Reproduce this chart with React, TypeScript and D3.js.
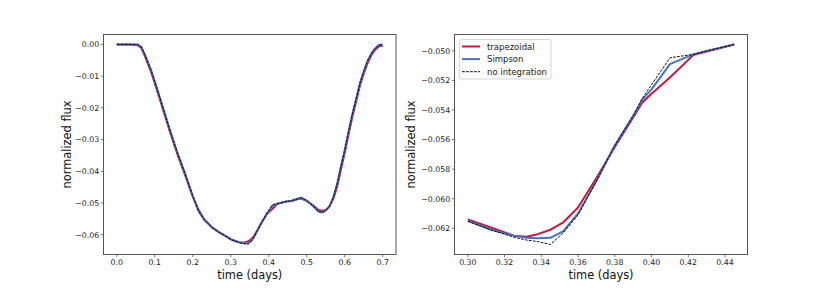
import React from "react";
import * as d3 from "d3";

const timeDays = [
  0, 0.02, 0.04, 0.055, 0.065, 0.075, 0.09, 0.105, 0.12, 0.14, 0.16, 0.18, 0.2, 0.215, 0.23, 0.25, 0.27, 0.29,
  0.3, 0.3125, 0.325, 0.332, 0.338, 0.345, 0.352, 0.36, 0.37, 0.38, 0.39, 0.395, 0.4, 0.41, 0.4227, 0.43, 0.445,
  0.46, 0.48, 0.487, 0.5, 0.515, 0.53, 0.54, 0.55, 0.56, 0.57, 0.58, 0.59, 0.6, 0.61, 0.62, 0.63, 0.64, 0.65,
  0.66, 0.67, 0.68, 0.69, 0.7,
];

const fluxNoIntegration = [
  0, 0, 0, 0, -0.0008, -0.0035, -0.008, -0.0135, -0.0193, -0.027, -0.0343, -0.0408, -0.0478, -0.0525, -0.0553,
  -0.0577, -0.0593, -0.0607,
  -0.06153, -0.0621, -0.0626, -0.0628, -0.0629, -0.0631, -0.0623, -0.0611, -0.0588, -0.0564, -0.0544, -0.0532,
  -0.0523, -0.05047, -0.05024, -0.05, -0.04957,
  -0.0493, -0.0485, -0.0483, -0.0493, -0.0508, -0.0526, -0.053, -0.0524, -0.0511, -0.0482, -0.044, -0.0385,
  -0.0333, -0.0275, -0.022, -0.0172, -0.0122, -0.0085, -0.0052, -0.0029, -0.0012, -0.0002, 0,
];

const fluxSimpson = [
  0, 0, 0, 0, -0.0008, -0.0035, -0.008, -0.0135, -0.0193, -0.027, -0.0343, -0.0408, -0.0478, -0.0525, -0.0553,
  -0.0577, -0.0593, -0.0607,
  -0.0615, -0.0621, -0.0625, -0.06265, -0.06268, -0.06265, -0.0622, -0.061, -0.0588, -0.0564, -0.0544, -0.0533,
  -0.0526, -0.0509, -0.05024, -0.05, -0.04957,
  -0.0493, -0.0485, -0.0484, -0.0493, -0.0508, -0.0526, -0.053, -0.0524, -0.0511, -0.0482, -0.044, -0.0385,
  -0.0333, -0.0275, -0.022, -0.0172, -0.0122, -0.0085, -0.0052, -0.0029, -0.0012, -0.0002, 0,
];

const fluxTrapezoidal = [
  0, 0, 0, -0.0002, -0.0012, -0.004, -0.0086, -0.0141, -0.0199, -0.0276, -0.0348, -0.0413, -0.048, -0.0521,
  -0.0551, -0.0576, -0.0593, -0.0607,
  -0.0614, -0.06195, -0.0625, -0.06257, -0.0624, -0.0621, -0.0616, -0.0606, -0.0586, -0.0565, -0.0545, -0.0535,
  -0.0529, -0.0518, -0.05029, -0.05005, -0.04957,
  -0.0494, -0.0487, -0.0487, -0.0493, -0.0506, -0.0521, -0.0525, -0.0522, -0.051, -0.0487, -0.0449, -0.0395,
  -0.0342, -0.0284, -0.0229, -0.018, -0.013, -0.0092, -0.0059, -0.0034, -0.0017, -0.0006, -0.0003,
];

const seriesNames = ["trapezoidal", "Simpson", "no integration"];
const seriesColors = ["#c8183f", "#4a72bf", "#111111"];

const leftXTicks = [0, 0.1, 0.2, 0.3, 0.4, 0.5, 0.6, 0.7];
const leftYTicks = [0, -0.01, -0.02, -0.03, -0.04, -0.05, -0.06];
const rightXTicks = [0.3, 0.32, 0.34, 0.36, 0.38, 0.4, 0.42, 0.44];
const rightYTicks = [-0.05, -0.052, -0.054, -0.056, -0.058, -0.06, -0.062];

const zoomRange = [0.3, 0.445];

type Pt = { t: number; f: number };

function pad(ext: [number, number]): [number, number] {
  const m = (ext[1] - ext[0]) * 0.05;
  return [ext[0] - m, ext[1] + m];
}

const fmt = (d: number, p: number) => d3.format(`.${p}f`)(d).replace("-", "\u2212");

function Panel({
  x0, x1, y0, y1, xTicks, yTicks, xPrec, yPrec, range, legend,
}: {
  x0: number; x1: number; y0: number; y1: number; xTicks: number[]; yTicks: number[];
  xPrec: number; yPrec: number; range?: number[]; legend?: boolean;
}) {
  const all = [fluxTrapezoidal, fluxSimpson, fluxNoIntegration].map((arr) =>
    timeDays
      .map((t, i) => ({ t, f: arr[i] }))
      .filter((p) => !range || (p.t >= range[0] - 1e-9 && p.t <= range[1] + 1e-9))
  );
  const flat = all.flat();
  const xs = d3.scaleLinear().domain(pad(d3.extent(flat, (p) => p.t) as [number, number])).range([x0, x1]);
  const ys = d3.scaleLinear().domain(pad(d3.extent(flat, (p) => p.f) as [number, number])).range([y1, y0]);
  const line = d3.line<Pt>().x((p) => xs(p.t)).y((p) => ys(p.f));
  const tickFont = 7.8;
  return (
    <g>
      <defs>
        <clipPath id={`clip${x0}`}>
          <rect x={x0} y={y0} width={x1 - x0} height={y1 - y0} />
        </clipPath>
      </defs>
      <g clipPath={`url(#clip${x0})`}>
        {all.map((pts, i) => (
          <path
            key={i}
            d={line(pts) || ""}
            fill="none"
            stroke={seriesColors[i]}
            strokeWidth={i === 2 ? 1 : 2}
            strokeDasharray={i === 2 ? "2.8,1.2" : undefined}
            strokeLinejoin="round"
          />
        ))}
      </g>
      <rect x={x0} y={y0} width={x1 - x0} height={y1 - y0} fill="none" stroke="#555" strokeWidth={1} />
      {xTicks.map((t) => (
        <g key={"x" + t}>
          <line x1={xs(t)} x2={xs(t)} y1={y1} y2={y1 + 2.6} stroke="#555" strokeWidth={0.8} />
          <text x={xs(t)} y={y1 + 10.3} textAnchor="middle" fontSize={tickFont} fill="#222">
            {fmt(t, xPrec)}
          </text>
        </g>
      ))}
      {yTicks.map((t) => (
        <g key={"y" + t}>
          <line x1={x0 - 2.6} x2={x0} y1={ys(t)} y2={ys(t)} stroke="#555" strokeWidth={0.8} />
          <text x={x0 - 4.3} y={ys(t) + 2.85} textAnchor="end" fontSize={tickFont} fill="#222">
            {fmt(t, yPrec)}
          </text>
        </g>
      ))}
      <text x={(x0 + x1) / 2} y={y1 + 24} textAnchor="middle" fontSize={11.4} fill="#111">
        time (days)
      </text>
      <text
        transform={`translate(${x0 - (yPrec === 2 ? 33 : 39.5)},${(y0 + y1) / 2}) rotate(-90)`}
        textAnchor="middle"
        fontSize={11.4}
        fill="#111"
      >
        normalized flux
      </text>
      {legend && (
        <g>
          <rect x={x0 + 5} y={y0 + 5} width={91.5} height={39.5} rx={2} fill="white" fillOpacity={0.8} stroke="#ccc" strokeWidth={0.8} />
          {seriesNames.map((n, i) => (
            <g key={n}>
              <line
                x1={x0 + 7.5}
                x2={x0 + 25.5}
                y1={y0 + 12 + i * 12.6}
                y2={y0 + 12 + i * 12.6}
                stroke={seriesColors[i]}
                strokeWidth={i === 2 ? 1 : 2}
                strokeDasharray={i === 2 ? "2.8,1.2" : undefined}
              />
              <text x={x0 + 32.5} y={y0 + 15 + i * 12.6} fontSize={8.5} fill="#222">
                {n}
              </text>
            </g>
          ))}
        </g>
      )}
    </g>
  );
}

export default function App() {
  return (
    <svg
      width={830}
      height={291}
      style={{ position: "absolute", left: 0, top: 0, fontFamily: "'DejaVu Sans', sans-serif", background: "white" }}
    >
      <rect width={830} height={291} fill="white" />
      <Panel x0={103.5} x1={396} y0={34.5} y1={254.5} xTicks={leftXTicks} yTicks={leftYTicks} xPrec={1} yPrec={2} />
      <Panel
        x0={454.5}
        x1={747.5}
        y0={34.5}
        y1={254.5}
        xTicks={rightXTicks}
        yTicks={rightYTicks}
        xPrec={2}
        yPrec={3}
        range={zoomRange}
        legend
      />
    </svg>
  );
}
